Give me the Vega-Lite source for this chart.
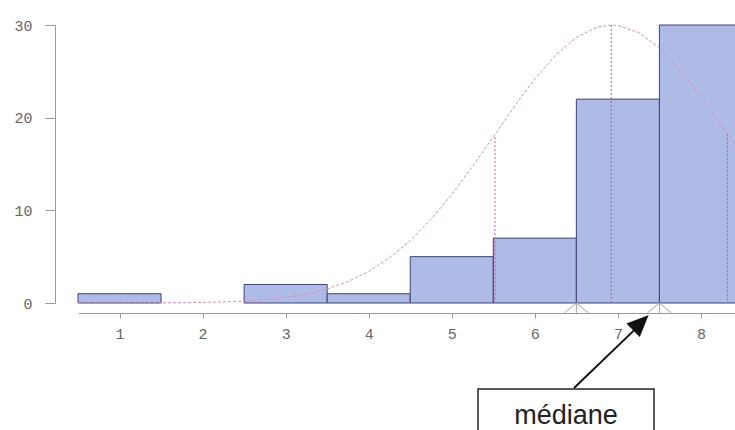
{
  "$schema": "https://vega.github.io/schema/vega-lite/v6.json",
  "autosize": {"type": "none"},
  "padding": {"left": 78, "top": 25, "right": 0, "bottom": 127},
  "width": 657,
  "height": 278,
  "background": "white",
  "config": {"view": {"stroke": null}},
  "datasets": {
    "bars": [
      {"start": 0.5, "end": 1.5, "count": 1},
      {"start": 2.5, "end": 3.5, "count": 2},
      {"start": 3.5, "end": 4.5, "count": 1},
      {"start": 4.5, "end": 5.5, "count": 5},
      {"start": 5.5, "end": 6.5, "count": 7},
      {"start": 6.5, "end": 7.5, "count": 22},
      {"start": 7.5, "end": 8.5, "count": 30}
    ],
    "curve": [
      {"x": 0.5, "y": 0}, {"x": 1.0, "y": 0}, {"x": 1.5, "y": 0.02}, {"x": 2.0, "y": 0.06},
      {"x": 2.25, "y": 0.12}, {"x": 2.5, "y": 0.21}, {"x": 2.75, "y": 0.36}, {"x": 3.0, "y": 0.59},
      {"x": 3.25, "y": 0.97}, {"x": 3.5, "y": 1.52}, {"x": 3.75, "y": 2.31}, {"x": 4.0, "y": 3.41},
      {"x": 4.25, "y": 4.87}, {"x": 4.5, "y": 6.74}, {"x": 4.75, "y": 9.03}, {"x": 5.0, "y": 11.72},
      {"x": 5.25, "y": 14.73}, {"x": 5.5, "y": 17.94}, {"x": 5.75, "y": 21.16}, {"x": 6.0, "y": 24.18},
      {"x": 6.25, "y": 26.75}, {"x": 6.5, "y": 28.68}, {"x": 6.75, "y": 29.78}, {"x": 6.92, "y": 30},
      {"x": 7.0, "y": 29.95}, {"x": 7.25, "y": 29.18}, {"x": 7.5, "y": 27.53}, {"x": 7.75, "y": 25.16},
      {"x": 8.0, "y": 22.29}, {"x": 8.25, "y": 19.1}, {"x": 8.5, "y": 15.87}
    ],
    "vlines": [
      {"x": 5.52, "y": 17.9},
      {"x": 6.92, "y": 30},
      {"x": 8.32, "y": 18.2}
    ],
    "quart": [
      {"x": 6.5, "y": -0.54},
      {"x": 7.5, "y": -0.54}
    ],
    "arrow": [
      {"x": 6.472, "y": -9.17, "x2": 7.2, "y2": -2.9}
    ],
    "head": [
      {"x": 7.252, "y": -2.34}
    ],
    "box": [
      {"x": 5.316, "x2": 7.435, "y": -9.28, "y2": -15.5}
    ],
    "label": [
      {"x": 6.375, "y": -13.06, "text": "médiane"}
    ]
  },
  "layer": [
    {
      "data": {"name": "bars"},
      "mark": {"type": "rect", "fill": "#aebbe6", "stroke": "#3c4275", "strokeWidth": 1},
      "encoding": {
        "x": {"field": "start", "type": "quantitative", "scale": {"domain": [0.5, 8.41], "nice": false, "zero": false},
          "axis": {"orient": "bottom", "offset": 10, "values": [1, 2, 3, 4, 5, 6, 7, 8], "format": "d", "title": null, "grid": false,
            "domainColor": "#999999", "tickColor": "#999999", "tickSize": 5, "labelPadding": 8,
            "labelFont": "Liberation Mono", "labelFontSize": 15, "labelColor": "#666666"}},
        "x2": {"field": "end"},
        "y": {"field": "count", "type": "quantitative", "scale": {"domain": [0, 30], "nice": false},
          "axis": {"orient": "left", "offset": 23, "values": [0, 10, 20, 30], "format": "d", "title": null, "grid": false,
            "domainColor": "#999999", "tickColor": "#999999", "tickSize": 10, "labelPadding": 13,
            "labelFont": "Liberation Mono", "labelFontSize": 15, "labelColor": "#666666"}},
        "y2": {"datum": 0}
      }
    },
    {
      "data": {"name": "curve"},
      "mark": {"type": "line", "color": "#e58ab0", "strokeWidth": 1, "strokeDash": [3, 2]},
      "encoding": {
        "x": {"field": "x", "type": "quantitative", "scale": {"domain": [0.5, 8.41], "nice": false, "zero": false}},
        "y": {"field": "y", "type": "quantitative", "scale": {"domain": [0, 30], "nice": false}}
      }
    },
    {
      "data": {"name": "vlines"},
      "mark": {"type": "rule", "color": "#d8508a", "strokeWidth": 1, "strokeDash": [2, 2]},
      "encoding": {
        "x": {"field": "x", "type": "quantitative", "scale": {"domain": [0.5, 8.41], "nice": false, "zero": false}},
        "y": {"field": "y", "type": "quantitative", "scale": {"domain": [0, 30], "nice": false}},
        "y2": {"datum": 0}
      }
    },
    {
      "data": {"name": "quart"},
      "mark": {"type": "point", "shape": "M-1.2,0.5L0,-0.5L1.2,0.5M0,-0.5L0,0.5", "size": 400, "filled": false, "stroke": "#b89aaa", "strokeWidth": 1, "opacity": 1},
      "encoding": {
        "x": {"field": "x", "type": "quantitative", "scale": {"domain": [0.5, 8.41], "nice": false, "zero": false}},
        "y": {"field": "y", "type": "quantitative", "scale": {"domain": [0, 30], "nice": false}}
      }
    },
    {
      "data": {"name": "box"},
      "mark": {"type": "rect", "fill": "white", "stroke": "#222222", "strokeWidth": 1.5},
      "encoding": {
        "x": {"field": "x", "type": "quantitative", "scale": {"domain": [0.5, 8.41], "nice": false, "zero": false}},
        "x2": {"field": "x2"},
        "y": {"field": "y", "type": "quantitative", "scale": {"domain": [0, 30], "nice": false}},
        "y2": {"field": "y2"}
      }
    },
    {
      "data": {"name": "arrow"},
      "mark": {"type": "rule", "color": "#111111", "strokeWidth": 2},
      "encoding": {
        "x": {"field": "x", "type": "quantitative", "scale": {"domain": [0.5, 8.41], "nice": false, "zero": false}},
        "x2": {"field": "x2"},
        "y": {"field": "y", "type": "quantitative", "scale": {"domain": [0, 30], "nice": false}},
        "y2": {"field": "y2"}
      }
    },
    {
      "data": {"name": "head"},
      "mark": {"type": "point", "shape": "M0,-1L-0.7,0.6L0.7,0.6Z", "size": 625, "filled": true, "fill": "#111111", "stroke": "#111111", "strokeWidth": 1, "opacity": 1, "angle": 45.6},
      "encoding": {
        "x": {"field": "x", "type": "quantitative", "scale": {"domain": [0.5, 8.41], "nice": false, "zero": false}},
        "y": {"field": "y", "type": "quantitative", "scale": {"domain": [0, 30], "nice": false}}
      }
    },
    {
      "data": {"name": "label"},
      "mark": {"type": "text", "font": "Liberation Sans", "fontSize": 27, "color": "#222222", "align": "center", "baseline": "alphabetic"},
      "encoding": {
        "x": {"field": "x", "type": "quantitative", "scale": {"domain": [0.5, 8.41], "nice": false, "zero": false}},
        "y": {"field": "y", "type": "quantitative", "scale": {"domain": [0, 30], "nice": false}},
        "text": {"field": "text"}
      }
    }
  ]
}
